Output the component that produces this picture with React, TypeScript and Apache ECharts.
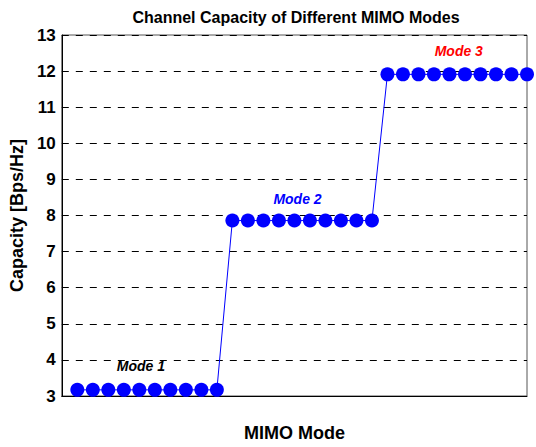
import React, { useEffect, useRef } from "react";
import * as echarts from "echarts";

const mode1Values = [3.17, 3.17, 3.17, 3.17, 3.17, 3.17, 3.17, 3.17, 3.17, 3.17];
const mode2Values = [7.86, 7.86, 7.86, 7.86, 7.86, 7.86, 7.86, 7.86, 7.86, 7.86];
const mode3Values = [11.91, 11.91, 11.91, 11.91, 11.91, 11.91, 11.91, 11.91, 11.91, 11.91];
const annotations = [
  { text: "Mode 1", x: 5.1, y: 3.82, color: "#000000" },
  { text: "Mode 2", x: 15.2, y: 8.45, color: "#0000ff" },
  { text: "Mode 3", x: 25.6, y: 12.57, color: "#ff0000" },
];

const FONT = "'Liberation Sans', Arial, Helvetica, sans-serif";

export default function App() {
  const ref = useRef<HTMLDivElement>(null);
  useEffect(() => {
    const chart = echarts.init(ref.current!, null, { renderer: "svg" });
    const all = [...mode1Values, ...mode2Values, ...mode3Values];
    const data = all.map((v, i) => [i + 1, v]);
    chart.setOption({
      animation: false,
      backgroundColor: "#ffffff",
      title: {
        text: "Channel Capacity of Different MIMO Modes",
        left: 291,
        textAlign: "center",
        top: 4,
        textStyle: { fontFamily: FONT, fontWeight: "bold", fontSize: 16, color: "#000" },
      },
      grid: {
        left: 59,
        right: 9,
        top: 35,
        bottom: 45,
        show: true,
        borderColor: "#555",
        borderWidth: 1,
      },
      xAxis: {
        type: "value",
        min: 0,
        max: 30,
        name: "MIMO Mode",
        nameLocation: "middle",
        nameGap: 28,
        nameTextStyle: { fontFamily: FONT, fontWeight: "bold", fontSize: 18, color: "#000" },
        axisLine: { show: true, lineStyle: { color: "#000", width: 1 } },
        axisTick: { show: false },
        axisLabel: { show: false },
        splitLine: { show: false },
      },
      yAxis: {
        type: "value",
        min: 3,
        max: 13,
        interval: 1,
        name: "Capacity [Bps/Hz]",
        nameLocation: "middle",
        nameGap: 32,
        nameRotate: 90,
        nameTextStyle: { fontFamily: FONT, fontWeight: "bold", fontSize: 18, color: "#000" },
        axisLine: { show: true, lineStyle: { color: "#000", width: 1 } },
        axisTick: { show: false },
        axisLabel: {
          margin: 6,
          fontFamily: FONT,
          fontWeight: "bold",
          fontSize: 17,
          color: "#000",
        },
        splitLine: {
          show: true,
          lineStyle: { color: "#000", type: [7, 7], width: 1 },
        },
      },
      series: [
        {
          type: "line",
          data,
          clip: false,
          symbol: "circle",
          symbolSize: 14,
          showAllSymbol: true,
          itemStyle: { color: "#0000ff" },
          lineStyle: { color: "#0000ff", width: 1 },
          z: 3,
        },
        {
          type: "scatter",
          symbolSize: 0,
          silent: true,
          itemStyle: { opacity: 1 },
          data: annotations.map((a) => ({
            value: [a.x, a.y],
            label: {
              show: true,
              position: "inside",
              formatter: a.text,
              color: a.color,
              opacity: 1,
              fontFamily: FONT,
              fontWeight: "bold",
              fontStyle: "italic",
              fontSize: 14,
            },
          })),
          z: 4,
        },
      ],
    });
    return () => chart.dispose();
  }, []);
  return <div ref={ref} style={{ width: 536, height: 447, position: "absolute", left: 0, top: 0 }} />;
}
